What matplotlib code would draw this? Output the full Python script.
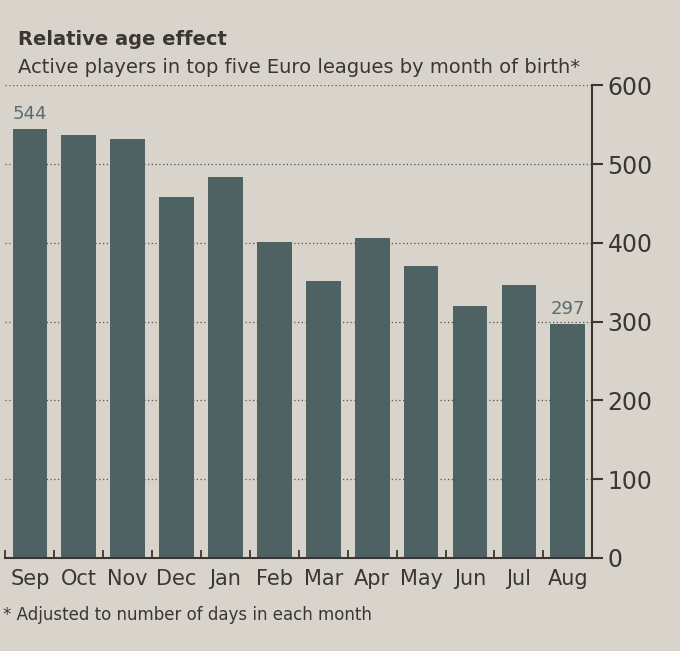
import numpy as np
import matplotlib
matplotlib.use('Agg')
import matplotlib.pyplot as plt

months = ['Sep', 'Oct', 'Nov', 'Dec', 'Jan', 'Feb', 'Mar', 'Apr', 'May', 'Jun', 'Jul', 'Aug']
players = [544, 537, 532, 458, 484, 401, 351, 406, 371, 320, 346, 297]
y_ticks = [0, 100, 200, 300, 400, 500, 600]
labelled = {0: '544', 11: '297'}

title = 'Relative age effect'
subtitle = 'Active players in top five Euro leagues by month of birth*'
footnote = '* Adjusted to number of days in each month'

plt.rcParams['font.family'] = ['DejaVu Sans']

paper = '#d8d4cb'
ink = '#3b3631'
bar_col = '#4e6264'

fig = plt.figure(figsize=(6.8, 6.51), dpi=100, facecolor=paper)
ax = fig.add_axes([0.008, 0.143, 0.863, 0.726])
ax.set_facecolor(paper)

x = np.arange(len(months))
ax.bar(x, players, width=0.71, color=bar_col, zorder=2)

ax.set_xlim(-0.5, len(months) - 0.5)
ax.set_ylim(0, 600)

# y axis on the right
ax.yaxis.tick_right()
ax.set_yticks(y_ticks)
ax.tick_params(axis='y', direction='out', length=8, width=1.5, pad=3,
               labelsize=17, colors=ink)
for s in ['left', 'top']:
    ax.spines[s].set_visible(False)
ax.spines['right'].set_color(ink)
ax.spines['right'].set_linewidth(1.5)
ax.spines['bottom'].set_color(ink)
ax.spines['bottom'].set_linewidth(1.5)

# month labels + boundary ticks
ax.set_xticks(x)
ax.set_xticklabels(months)
ax.tick_params(axis='x', which='major', length=0, pad=8, labelsize=15, colors=ink)
ax.set_xticks(np.arange(-0.5, len(months), 1), minor=True)
ax.tick_params(axis='x', which='minor', direction='in', length=6, width=1.3, color=ink)

ax.yaxis.grid(True, linestyle=(0, (1, 2)), color='#56544f', linewidth=0.9)
ax.set_axisbelow(True)

for i, txt in labelled.items():
    ax.text(x[i], players[i] + 8, txt, ha='center', va='bottom',
            fontsize=13, color='#5a6c6e', zorder=3)

fig.text(0.027, 0.931, title, fontsize=14, fontweight='bold', color=ink)
fig.text(0.027, 0.888, subtitle, fontsize=14, color=ink)
fig.text(0.004, 0.048, footnote, fontsize=12, color=ink)

fig.savefig('out.png', dpi=100, facecolor=paper)
